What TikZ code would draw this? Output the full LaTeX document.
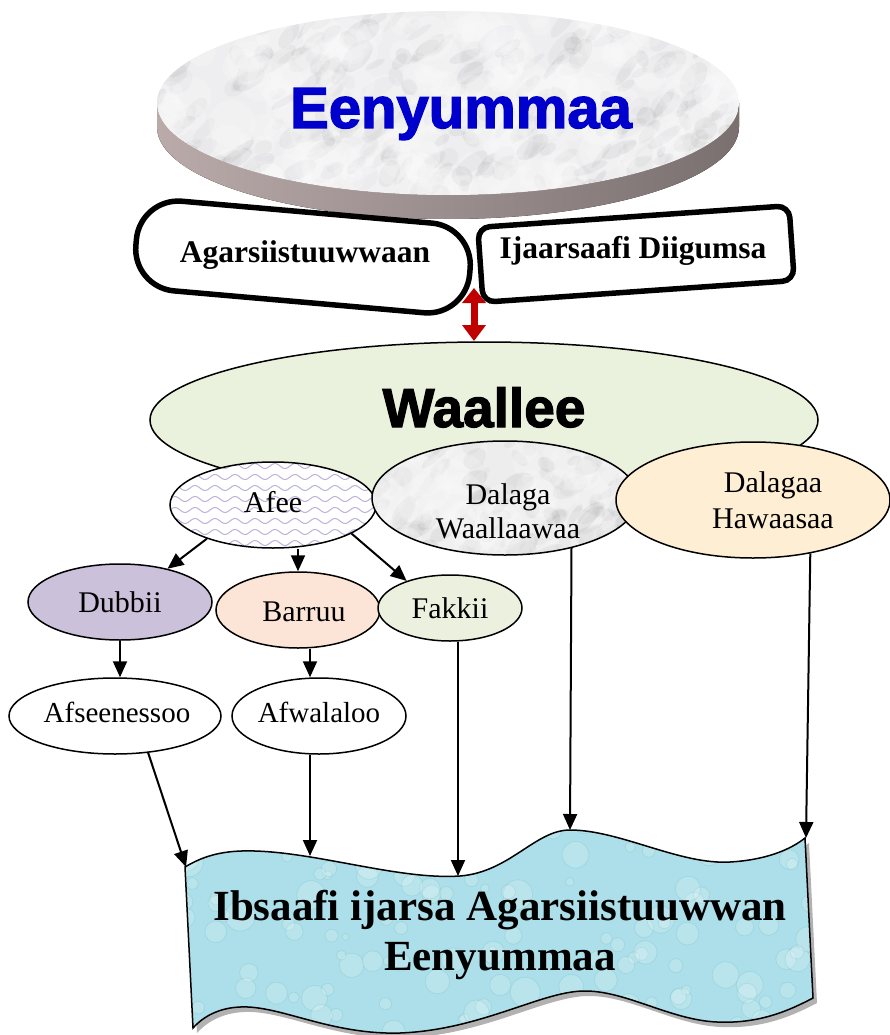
\documentclass[tikz,border=0pt]{standalone}
\usepackage{fontspec}
\setmainfont{Liberation Serif}
\newfontfamily\headfont{Liberation Sans}[FakeBold=2.2]
\usetikzlibrary{arrows.meta,shapes.geometric,calc}
\definecolor{headblue}{RGB}{0,0,204}
\definecolor{arrowred}{RGB}{192,0,0}
\definecolor{wallgreen}{RGB}{234,241,221}
\definecolor{beigefill}{RGB}{253,238,212}
\definecolor{lavfill}{RGB}{204,193,218}
\definecolor{peachfill}{RGB}{252,228,214}
\definecolor{fakgreen}{RGB}{235,241,222}
\definecolor{aquafill}{RGB}{172,223,233}
\definecolor{wavecol}{RGB}{190,176,218}
\definecolor{marblebase}{RGB}{238,238,240}
\definecolor{sidelight}{RGB}{186,170,170}
\definecolor{sidedark}{RGB}{122,112,112}
\newcommand\fsz[1]{\fontsize{#1}{#1}\selectfont}
\newcommand\mymarble[6]{%
  \begin{scope}
    \clip (#1,#2) ellipse [x radius=#3, y radius=#4];
    \fill[#5] (#1-#3,#2-#4) rectangle (#1+#3,#2+#4);
    \foreach \i in {1,...,#6}{
      \pgfmathsetmacro\px{#1+rand*#3}
      \pgfmathsetmacro\py{#2+rand*#4}
      \pgfmathsetmacro\ra{5+rnd*16}
      \pgfmathsetmacro\rb{3+rnd*8}
      \pgfmathsetmacro\op{0.03+rnd*0.07}
      \pgfmathsetmacro\ang{20+rnd*40}
      \fill[black!60, opacity=\op, rotate around={\ang:(\px,\py)}] (\px,\py) ellipse [x radius=\ra, y radius=\rb];
    }
    \foreach \i in {1,...,#6}{
      \pgfmathsetmacro\px{#1+rand*#3}
      \pgfmathsetmacro\py{#2+rand*#4}
      \pgfmathsetmacro\ra{6+rnd*18}
      \fill[white, opacity=0.18] (\px,\py) circle [radius=\ra];
    }
  \end{scope}}
\def\bannerpath{(185,867) .. controls (205,855) and (225,850) .. (255,851)
  .. controls (320,853) and (400,880) .. (460,876)
  .. controls (510,872) and (535,830) .. (570,830)
  .. controls (620,830) and (680,865) .. (730,862)
  .. controls (765,860) and (790,850) .. (805,838)
  -- (813,998)
  .. controls (790,1010) and (760,1024) .. (717,1022)
  .. controls (670,1020) and (625,990) .. (583,991)
  .. controls (540,992) and (480,1030) .. (400,1033)
  .. controls (330,1035) and (280,1005) .. (240,1007)
  .. controls (215,1008) and (200,1020) .. (193,1028) -- cycle}
\begin{document}
\begin{tikzpicture}[x=1pt,y=-1pt,
  ell/.style={ellipse, draw=black, line width=1.5pt, inner sep=0pt},
  arr/.style={line width=2pt, -{Triangle[length=16pt,width=14pt]}},
  lbl/.style={anchor=base, inner sep=0pt, font=\fsz{30}},
  boxlbl/.style={anchor=base, inner sep=0pt, font=\bfseries\fsz{31.5}},
  bigbox/.style={draw=black, line width=5.5pt, fill=white, inner sep=0pt},
  redarr/.style={draw=arrowred, line width=7pt, {Triangle[length=15pt,width=23pt]}-{Triangle[length=16pt,width=23pt]}}
]
\useasboundingbox (0,0) rectangle (889,1035);
\pgfmathsetseed{11}
% --- top disk ---
\fill[left color=sidelight, right color=sidedark]
  (157,103) arc[start angle=180, end angle=0, x radius=291, y radius=92]
  -- ++(0,24) arc[start angle=0, end angle=180, x radius=291, y radius=92] -- cycle;
\mymarble{448}{103}{291}{92}{marblebase}{260}
\node[anchor=base, inner sep=0pt, font=\headfont\bfseries\fsz{58}, text=headblue] (eeny) at (461,128) {Eenyummaa};
% --- boxes ---
\node[bigbox, rounded corners=42pt, minimum width=335pt, minimum height=90pt, rotate=-5] (agbox) at (303,257) {};
\node[bigbox, rounded corners=12pt, minimum width=312pt, minimum height=75pt, rotate=4] (ijbox) at (636,254) {};
\node[boxlbl] (agtext) at (305,262) {Agarsiistuuwwaan};
\node[boxlbl] (ijtext) at (633,258) {Ijaarsaafi Diigumsa};
% --- Waallee ---
\node[ell, fill=wallgreen, minimum width=668pt, minimum height=156pt] (waallee) at (484,420) {};
\node[anchor=base, inner sep=0pt, font=\headfont\bfseries\fsz{55}] (waltext) at (484,427) {Waallee};
\coordinate (ra1) at (474,288);
\coordinate (ra2) at (474,341);
\draw[redarr] (ra1) -- (ra2);
% --- Afee ---
\begin{scope}
  \clip (273,505) ellipse [x radius=103, y radius=43];
  \fill[white] (170,462) rectangle (376,548);
  \foreach \yy in {466,477,...,548}{
    \draw[wavecol, line width=1pt] plot[domain=168:380, samples=120] (\x,{\yy+2.5*sin(\x*18)});
  }
\end{scope}
\node[ell, minimum width=206pt, minimum height=86pt] (afee) at (273,505) {};
% --- Dalaga Waallaawaa ---
\mymarble{505}{498}{133}{57}{gray!14}{90}
\node[ell, minimum width=266pt, minimum height=114pt] (waal) at (505,498) {};
% --- Dalagaa Hawaasaa ---
\node[ell, fill=beigefill, minimum width=274pt, minimum height=116pt] (haw) at (753,500) {};
\node[lbl] (afeetext) at (273,512) {Afee};
\node[lbl] (waltx1) at (508,504) {Dalaga};
\node[lbl] (waltx2) at (508,538) {Waallaawaa};
\node[lbl] (hawtx1) at (773,492) {Dalagaa};
\node[lbl] (hawtx2) at (773,528) {Hawaasaa};
% --- second row ---
\node[ell, fill=lavfill, minimum width=184pt, minimum height=76pt] (dubbii) at (120,602) {};
\node[ell, fill=peachfill, minimum width=164pt, minimum height=76pt] (barruu) at (298,610) {};
\node[ell, fill=fakgreen, minimum width=144pt, minimum height=66pt] (fakkii) at (450,608) {};
\node[lbl] (dubtext) at (120,612) {Dubbii};
\node[lbl] (bartext) at (304,621) {Barruu};
\node[lbl] (faktext) at (450,618) {Fakkii};
% --- third row ---
\node[ell, fill=white, minimum width=212pt, minimum height=76pt] (afs) at (115,716) {};
\node[ell, fill=white, minimum width=174pt, minimum height=76pt] (afw) at (319,716) {};
\node[lbl, font=\fsz{29}] (afstext) at (117,722) {Afseenessoo};
\node[lbl, font=\fsz{29}] (afwtext) at (319,722) {Afwalaloo};
% --- banner ---
\fill[gray!60, shift={(4,5)}] \bannerpath;
\begin{scope}
  \clip \bannerpath;
  \fill[aquafill] (180,820) rectangle (820,1040);
  \foreach \i in {1,...,140}{
    \pgfmathsetmacro\px{500+rand*320}
    \pgfmathsetmacro\py{930+rand*110}
    \pgfmathsetmacro\rr{3+rnd*12}
    \fill[white, opacity=0.18] (\px,\py) circle [radius=\rr];
    \draw[teal, opacity=0.10, line width=0.8pt] (\px,\py) circle [radius=\rr];
  }
\end{scope}
\draw[black, line width=1.5pt] \bannerpath;
\node[anchor=base, inner sep=0pt, font=\bfseries\fsz{43}] (ban1) at (500,920) {Ibsaafi ijarsa Agarsiistuuwwan};
\node[anchor=base, inner sep=0pt, font=\bfseries\fsz{43}] (ban2) at (500,970) {Eenyummaa};
\coordinate (b1) at (186,867);
\coordinate (b2) at (310,856);
\coordinate (b3) at (458,876);
\coordinate (b4) at (570,830);
\coordinate (b5) at (806,838);
% --- connectors ---
\draw[arr] (afee.207) -- (dubbii.35);
\draw[arr] (barruu.north |- afee.south) -- (barruu.north);
\draw[arr] (afee.340) -- (fakkii.148);
\draw[arr] (dubbii.south) -- (dubbii.south |- afs.north);
\draw[arr] ([xshift=12pt]barruu.south) -- ([xshift=12pt]barruu.south |- afw.north);
\draw[arr] (afs.312) -- (b1);
\draw[arr] ([xshift=-9pt]afw.south) -- (b2);
\draw[arr] ([xshift=8pt]fakkii.south) -- (b3);
\draw[arr] (waal.323) -- (b4);
\draw[arr] (haw.317) -- (b5);
\end{tikzpicture}
\end{document}
